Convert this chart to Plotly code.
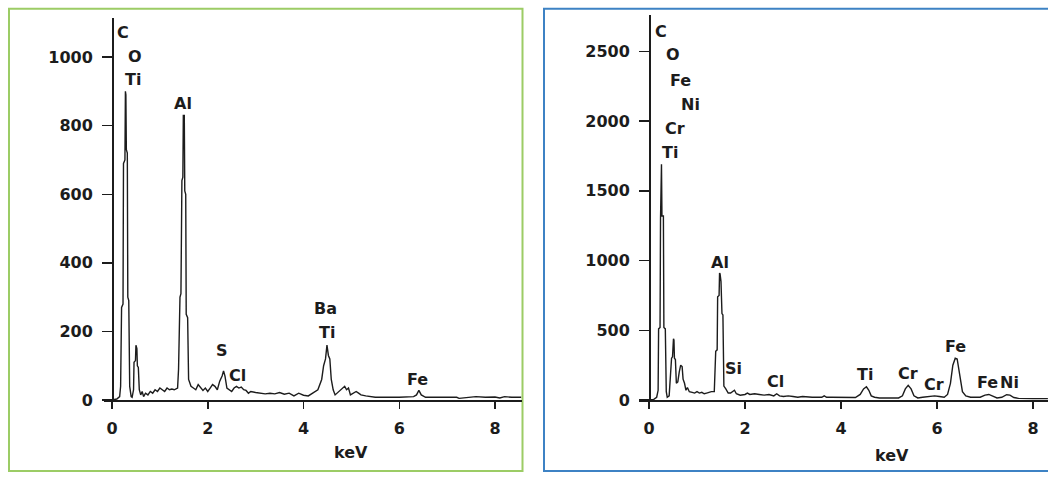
import plotly.graph_objects as go

# ---------------- data ----------------
left_kev = [0.00, 0.10, 0.16, 0.18, 0.20, 0.23, 0.24, 0.27, 0.28, 0.29, 0.30, 0.32, 0.33, 0.35, 0.37, 0.40,
            0.42, 0.45, 0.46, 0.49, 0.50, 0.52, 0.53, 0.55, 0.57, 0.60, 0.63, 0.66, 0.70, 0.75, 0.80, 0.85,
            0.90, 0.95, 1.00, 1.05, 1.10, 1.15, 1.20, 1.25, 1.30, 1.37, 1.39, 1.42, 1.44, 1.46, 1.48, 1.49,
            1.51, 1.52, 1.54, 1.55, 1.58, 1.60, 1.65, 1.70, 1.75, 1.80, 1.85, 1.90, 1.95, 2.00, 2.05, 2.10,
            2.15, 2.20, 2.25, 2.30, 2.33, 2.36, 2.40, 2.45, 2.50, 2.55, 2.60, 2.65, 2.70, 2.75, 2.80, 2.85,
            2.90, 3.00, 3.10, 3.20, 3.30, 3.40, 3.50, 3.60, 3.70, 3.80, 3.90, 4.00, 4.10, 4.20, 4.30, 4.38,
            4.42, 4.46, 4.49, 4.52, 4.55, 4.58, 4.62, 4.66, 4.70, 4.76, 4.82, 4.86, 4.90, 4.94, 4.98, 5.05,
            5.10, 5.15, 5.20, 5.30, 5.40, 5.50, 6.00, 6.30, 6.36, 6.41, 6.46, 6.55, 7.00, 7.20, 7.25, 7.40,
            7.60, 7.80, 8.00, 8.10, 8.20, 8.35, 8.55]
left_counts = [0, 3, 10, 40, 270, 280, 690, 700, 900, 890, 730, 720, 300, 290, 40, 10,
               8, 30, 110, 115, 160, 150, 100, 95, 30, 15, 25, 10, 20, 15, 25, 20,
               30, 25, 35, 30, 25, 35, 30, 32, 30, 35, 90, 300, 310, 640, 650, 830,
               830, 610, 600, 250, 240, 60, 40, 35, 30, 45, 35, 28, 35, 25, 35, 45,
               40, 30, 55, 70, 85, 70, 35, 30, 25, 35, 40, 35, 38, 30, 28, 20,
               25, 22, 20, 18, 20, 18, 22, 17, 20, 12, 20, 14, 12, 20, 30, 60,
               100, 120, 160, 130, 120, 60, 30, 15, 20, 30, 35, 40, 30, 35, 15, 20,
               25, 20, 15, 12, 10, 8, 8, 10, 15, 28, 15, 8, 8, 8, 5, 8,
               10, 8, 9, 6, 10, 8, 8]

right_kev = [0.00, 0.10, 0.16, 0.19, 0.20, 0.23, 0.24, 0.25, 0.26, 0.27, 0.30, 0.31, 0.34, 0.36, 0.38,
             0.42, 0.45, 0.47, 0.49, 0.51, 0.52, 0.53, 0.55, 0.57, 0.60, 0.63, 0.66, 0.69, 0.71, 0.74,
             0.77, 0.80, 0.84, 0.90, 0.95, 1.00, 1.05, 1.10, 1.15, 1.20, 1.25, 1.30, 1.36, 1.39, 1.42,
             1.43, 1.46, 1.47, 1.48, 1.50, 1.52, 1.54, 1.56, 1.60, 1.65, 1.70, 1.78, 1.82, 1.90, 2.00,
             2.05, 2.10, 2.20, 2.30, 2.40, 2.50, 2.60, 2.66, 2.72, 2.80, 2.90, 3.00, 3.10, 3.20, 3.30,
             3.40, 3.50, 3.60, 3.65, 3.70, 3.80, 4.00, 4.20, 4.30, 4.40, 4.47, 4.53, 4.58, 4.63, 4.70,
             4.80, 5.00, 5.10, 5.20, 5.28, 5.34, 5.40, 5.46, 5.52, 5.60, 5.70, 5.80, 5.88, 5.95, 6.05,
             6.15, 6.22, 6.28, 6.33, 6.38, 6.42, 6.47, 6.53, 6.60, 6.70, 6.80, 6.90, 7.00, 7.08, 7.15,
             7.25, 7.35, 7.45, 7.52, 7.60, 7.70, 7.80, 8.00, 8.31]
right_counts = [0, 5, 20, 70, 510, 520, 1300, 1690, 1690, 1320, 1320, 520, 510, 60, 20,
                30, 160, 300, 310, 440, 430, 300, 290, 120, 130, 200, 250, 240, 150, 120,
                70, 90, 60, 55, 50, 60, 50, 55, 45, 50, 55, 60, 60, 350, 360,
                740, 750, 910, 905, 850, 620, 610, 100, 80, 50, 50, 70, 45, 35, 40,
                50, 40, 45, 40, 35, 40, 30, 45, 30, 25, 30, 25, 20, 25, 20,
                20, 20, 20, 30, 20, 20, 20, 20, 18, 40, 80, 95, 70, 30, 20,
                15, 15, 18, 15, 30, 80, 105, 80, 30, 15, 20, 25, 30, 30, 25,
                20, 40, 120, 250, 300, 295, 180, 60, 30, 20, 20, 20, 35, 40, 30,
                15, 20, 38, 35, 18, 12, 10, 10, 10]

left_tick_vals = [0, 200, 400, 600, 800, 1000]
right_tick_vals = [0, 500, 1000, 1500, 2000, 2500]
x_tick_vals = [0, 2, 4, 6, 8]

left_labels = ["C", "O", "Ti", "Al", "S", "Cl", "Ba", "Ti", "Fe"]
left_label_x = [0.23, 0.48, 0.44, 1.48, 2.29, 2.62, 4.46, 4.50, 6.39]
left_label_y = [1071, 1003, 934, 866, 143, 71, 266, 197, 60]

right_labels = ["C", "O", "Fe", "Ni", "Cr", "Ti", "Al", "Si", "Cl", "Ti", "Cr", "Cr", "Fe", "Fe", "Ni"]
right_label_x = [0.25, 0.50, 0.66, 0.86, 0.54, 0.44, 1.48, 1.75, 2.64, 4.51, 5.39, 5.93, 6.39, 7.05, 7.50]
right_label_y = [2643, 2476, 2294, 2120, 1945, 1773, 986, 223, 130, 184, 191, 114, 386, 126, 126]

axis_title = "keV"

# ---------------- figure ----------------
W, H = 1048, 483
FONT = "DejaVu Sans"
INK = "#1c1c1c"

def px_x(p):
    return p / W

def px_y(p):
    return (H - p) / H

# pixel geometry of the two panels
L_X0, L_X8, L_END, L_START = 112.0, 495.0, 521.5, 104.0
R_X0, R_X8, R_END, R_START = 649.0, 1033.0, 1048.0, 639.0
L_K = (L_X8 - L_X0) / 8.0
R_K = (R_X8 - R_X0) / 8.0

fig = go.Figure()
fig.add_trace(go.Scatter(x=left_kev, y=left_counts, mode="lines",
                         line=dict(color=INK, width=1.4), xaxis="x", yaxis="y",
                         showlegend=False, hoverinfo="skip"))
fig.add_trace(go.Scatter(x=right_kev, y=right_counts, mode="lines",
                         line=dict(color=INK, width=1.4), xaxis="x2", yaxis="y2",
                         showlegend=False, hoverinfo="skip"))

tickfont = dict(family=FONT, size=16, color=INK, weight="bold")
common_x = dict(showgrid=False, zeroline=False, showline=True, linecolor=INK, linewidth=1.5,
                ticks="outside", ticklen=7, tickwidth=1.5, tickcolor=INK, tickvals=x_tick_vals,
                tickfont=tickfont, ticklabelstandoff=6, fixedrange=True)
common_y = dict(showgrid=False, zeroline=False, showline=True, linecolor=INK, linewidth=1.5,
                ticks="outside", ticklen=10, tickwidth=1.5, tickcolor=INK,
                tickfont=tickfont, ticklabelstandoff=6, fixedrange=True, anchor="free")

fig.update_layout(
    width=W, height=H, autosize=False,
    margin=dict(l=0, r=0, t=0, b=0),
    paper_bgcolor="white", plot_bgcolor="white",
    xaxis=dict(common_x, domain=[px_x(L_START), px_x(L_END)],
               range=[(L_START - L_X0) / L_K, (L_END - L_X0) / L_K], anchor="y"),
    yaxis=dict(common_y, domain=[px_y(408.5), px_y(18)], range=[0, 1115],
               position=px_x(L_X0), tickvals=left_tick_vals),
    xaxis2=dict(common_x, domain=[px_x(R_START), px_x(R_END)],
                range=[(R_START - R_X0) / R_K, (R_END - R_X0) / R_K], anchor="y2"),
    yaxis2=dict(common_y, domain=[px_y(408.5), px_y(15)], range=[0, 2763],
                position=px_x(R_X0), tickvals=right_tick_vals),
)

annos = []
for t, x, y in zip(left_labels, left_label_x, left_label_y):
    annos.append(dict(text=t, x=x, y=y, xref="x", yref="y", showarrow=False,
                      font=dict(family=FONT, size=16, color=INK, weight="bold"),
                      xanchor="center", yanchor="middle"))
for t, x, y in zip(right_labels, right_label_x, right_label_y):
    annos.append(dict(text=t, x=x, y=y, xref="x2", yref="y2", showarrow=False,
                      font=dict(family=FONT, size=16, color=INK, weight="bold"),
                      xanchor="center", yanchor="middle"))
annos.append(dict(text=axis_title, x=5.0, y=px_y(462), xref="x", yref="paper", showarrow=False,
                  font=dict(family=FONT, size=16, color=INK, weight="bold"),
                  xanchor="center", yanchor="middle"))
annos.append(dict(text=axis_title, x=5.06, y=px_y(465), xref="x2", yref="paper", showarrow=False,
                  font=dict(family=FONT, size=16, color=INK, weight="bold"),
                  xanchor="center", yanchor="middle"))
fig.update_layout(annotations=annos)

fig.update_layout(shapes=[
    dict(type="rect", xref="paper", yref="paper", x0=px_x(9), x1=px_x(522.5), y0=px_y(481), y1=px_y(9),
         line=dict(color="#9ccc65", width=2), layer="below"),
    dict(type="rect", xref="paper", yref="paper", x0=px_x(544), x1=px_x(1060), y0=px_y(481), y1=px_y(9),
         line=dict(color="#3d82c4", width=2), layer="below"),
])

# remove the browser's default 8px page margin so the figure sits at the window origin
page_css = ("document.documentElement.style.margin='0';document.body.style.margin='0';"
            "document.documentElement.style.overflow='hidden';document.body.style.overflow='hidden';")
fig.write_html("out.html", post_script=page_css, config={"displayModeBar": False, "staticPlot": True})
